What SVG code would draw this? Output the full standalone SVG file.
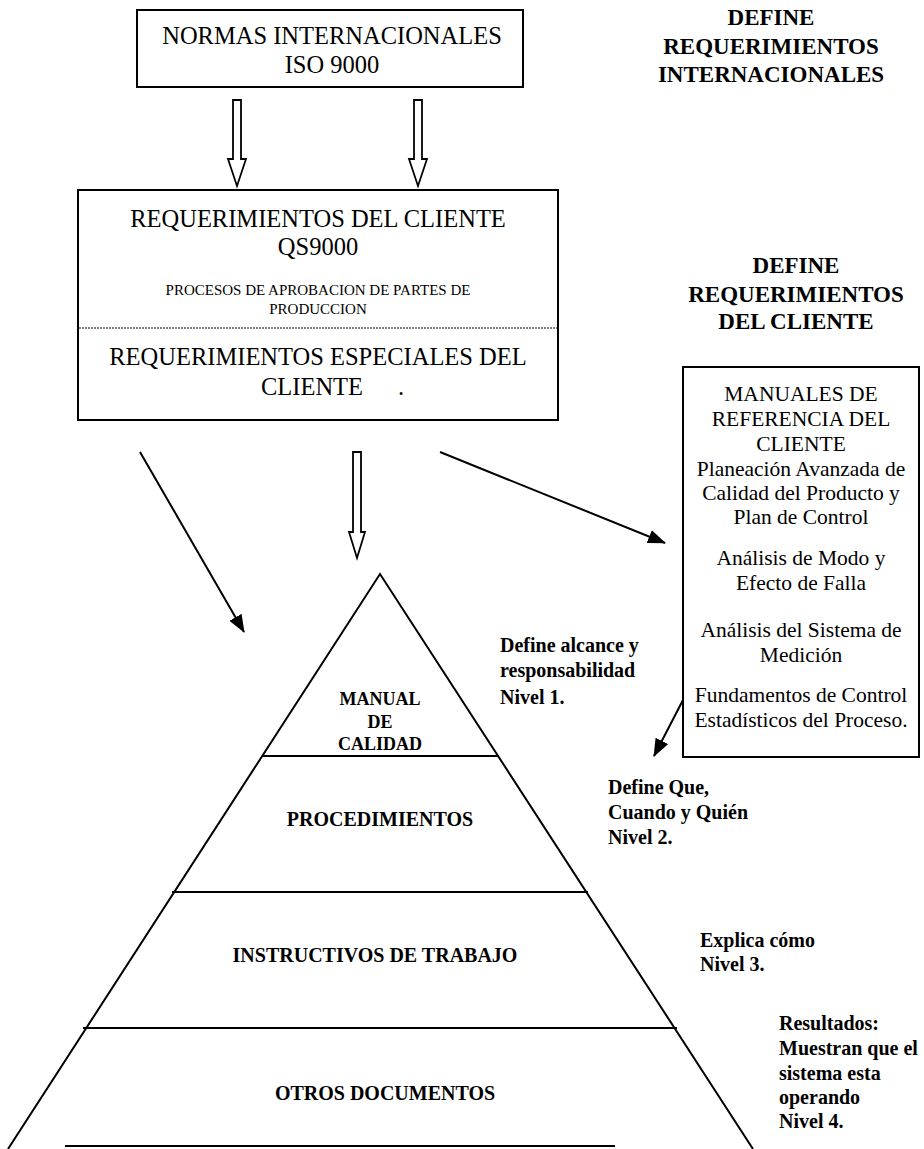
<svg xmlns="http://www.w3.org/2000/svg" width="924" height="1149" viewBox="0 0 924 1149">
<style>
.t{font-family:"Liberation Serif","Times New Roman",serif;fill:#000}
.c{text-anchor:middle}
.r24{font-size:24.5px}
.r21{font-size:21.5px}
.r15{font-size:15px}
.b23{font-size:23px;font-weight:bold}
.b20{font-size:20px;font-weight:bold}
.b18{font-size:18px;font-weight:bold}
.box{fill:#fff;stroke:#000;stroke-width:2}
.ln{stroke:#000;stroke-width:2;fill:none}
.hollow{fill:#fff;stroke:#000;stroke-width:1.8;stroke-linejoin:miter}
.arr{stroke:#000;stroke-width:2;fill:none;marker-end:url(#ah)}
</style>
<defs>
<marker id="ah" markerUnits="userSpaceOnUse" markerWidth="18" markerHeight="14" refX="17" refY="7" orient="auto">
<path d="M0,0 L18,7 L0,14 z" fill="#000"/>
</marker>
</defs>
<rect width="924" height="1149" fill="#fff"/>

<g id="iso-box">
<rect class="box" x="137" y="10" width="386" height="77"/>
<text class="t c r24" x="332" y="44">NORMAS INTERNACIONALES</text>
<text class="t c r24" x="332" y="73">ISO 9000</text>
</g>

<g id="header-internacionales">
<text class="t c b23" x="771" y="25">DEFINE</text>
<text class="t c b23" x="771" y="54">REQUERIMIENTOS</text>
<text class="t c b23" x="771" y="82">INTERNACIONALES</text>
</g>

<g id="qs-box">
<rect class="box" x="78" y="190" width="480" height="230"/>
<text class="t c r24" x="318" y="227">REQUERIMIENTOS DEL CLIENTE</text>
<text class="t c r24" x="318" y="255">QS9000</text>
<text class="t c r15" x="318" y="295">PROCESOS DE APROBACION DE PARTES DE</text>
<text class="t c r15" x="318" y="314">PRODUCCION</text>
<line x1="79" y1="328" x2="557" y2="328" stroke="#000" stroke-width="1" stroke-dasharray="2,1"/>
<text class="t c r24" x="318" y="365">REQUERIMIENTOS ESPECIALES DEL</text>
<text class="t c r24" x="312" y="395">CLIENTE</text>
<text class="t r24" x="398" y="395">.</text>
</g>

<g id="header-cliente">
<text class="t c b23" x="796" y="273">DEFINE</text>
<text class="t c b23" x="796" y="302">REQUERIMIENTOS</text>
<text class="t c b23" x="796" y="329">DEL CLIENTE</text>
</g>

<g id="manuales-box">
<rect class="box" x="683" y="367" width="236" height="390"/>
<text class="t c r21" x="801" y="401">MANUALES DE</text>
<text class="t c r21" x="801" y="426">REFERENCIA DEL</text>
<text class="t c r21" x="801" y="451">CLIENTE</text>
<text class="t c r21" x="801" y="476">Planeación Avanzada de</text>
<text class="t c r21" x="801" y="500">Calidad del Producto y</text>
<text class="t c r21" x="801" y="524">Plan de Control</text>
<text class="t c r21" x="801" y="565">Análisis de Modo y</text>
<text class="t c r21" x="801" y="590">Efecto de Falla</text>
<text class="t c r21" x="801" y="637">Análisis del Sistema de</text>
<text class="t c r21" x="801" y="662">Medición</text>
<text class="t c r21" x="801" y="702">Fundamentos de Control</text>
<text class="t c r21" x="801" y="727">Estadísticos del Proceso.</text>
</g>

<g id="pyramid">
<path class="ln" d="M8,1149 L380,574 L753,1149"/>
<line class="ln" x1="262" y1="756" x2="498" y2="756"/>
<line class="ln" x1="172" y1="892" x2="588" y2="892"/>
<line class="ln" x1="83" y1="1028" x2="677" y2="1028"/>
<line class="ln" x1="65" y1="1146" x2="615" y2="1146"/>
</g>

<g id="level-1">
<text class="t c b18" x="380" y="705">MANUAL</text>
<text class="t c b18" x="380" y="728">DE</text>
<text class="t c b18" x="380" y="750">CALIDAD</text>
<text class="t b20" x="500" y="652">Define alcance y</text>
<text class="t b20" x="500" y="677">responsabilidad</text>
<text class="t b20" x="500" y="704">Nivel 1.</text>
</g>

<g id="level-2">
<text class="t c b20" x="380" y="826">PROCEDIMIENTOS</text>
<text class="t b20" x="608" y="794">Define Que,</text>
<text class="t b20" x="608" y="819">Cuando y Quién</text>
<text class="t b20" x="608" y="844">Nivel 2.</text>
</g>

<g id="level-3">
<text class="t c b20" x="375" y="962">INSTRUCTIVOS DE TRABAJO</text>
<text class="t b20" x="700" y="947">Explica cómo</text>
<text class="t b20" x="700" y="971">Nivel 3.</text>
</g>

<g id="level-4">
<text class="t c b20" x="385" y="1100">OTROS DOCUMENTOS</text>
<text class="t b20" x="779" y="1030">Resultados:</text>
<text class="t b20" x="779" y="1055">Muestran que el</text>
<text class="t b20" x="779" y="1080">sistema esta</text>
<text class="t b20" x="779" y="1104">operando</text>
<text class="t b20" x="779" y="1128">Nivel 4.</text>
</g>

<g id="connectors">
<polygon class="hollow" points="233,100 241,100 241,159 246,159 237,186 228,159 233,159"/>
<polygon class="hollow" points="414,100 422,100 422,159 427,159 418,186 409,159 414,159"/>
<polygon class="hollow" points="353,452 361,452 361,532 365,532 357,558 349,532 353,532"/>
<line class="arr" x1="140" y1="452" x2="244" y2="632"/>
<line class="arr" x1="440" y1="452" x2="665" y2="543"/>
<line class="arr" x1="683" y1="700" x2="654" y2="756"/>
</g>
</svg>
